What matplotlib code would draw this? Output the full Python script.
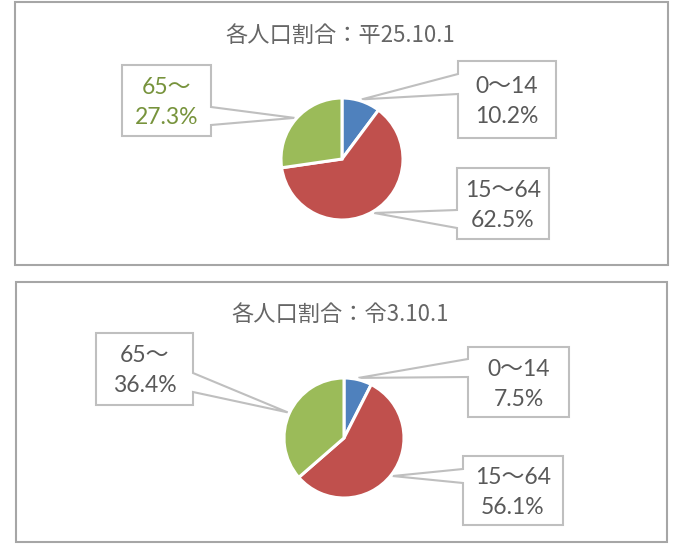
import matplotlib.pyplot as plt
import numpy as np
from matplotlib.patches import Polygon, Rectangle

# データ
age_groups = ['0～14', '15～64', '65～']
share_h25 = [10.2, 62.5, 27.3]
share_r3 = [7.5, 56.1, 36.4]
titles = ['各人口割合：平25.10.1', '各人口割合：令3.10.1']
slice_colors = ['#4F81BD', '#C0504D', '#9BBB59']

W, H = 678, 544
GRAY_TXT = '#595959'
BOX_EDGE = '#BFBFBF'

# レイアウト (ピクセル座標, 上から)
panels = [
    dict(values=share_h25, title=titles[0], frame=(15, 2, 668, 265),
         title_base=42, center=(342, 159), r=61,
         boxes=[(458, 61, 556, 138, 'left', 74, 94),
                (457, 168, 549, 239, 'left', 210, 228),
                (122, 65, 211, 136, 'right', 107, 125)],
         txt_colors=[GRAY_TXT, GRAY_TXT, '#77933C']),
    dict(values=share_r3, title=titles[1], frame=(16, 282, 667, 542),
         title_base=321, center=(344, 438), r=60,
         boxes=[(468, 347, 569, 417, 'left', 359, 377),
                (463, 456, 563, 525, 'left', 469, 483),
                (96, 333, 193, 405, 'right', 373, 392)],
         txt_colors=[GRAY_TXT, GRAY_TXT, GRAY_TXT]),
]

fig = plt.figure(figsize=(W / 100, H / 100), dpi=100)
bg = fig.add_axes([0, 0, 1, 1])
bg.set_xlim(0, W)
bg.set_ylim(H, 0)
bg.axis('off')

for p in panels:
    x0, y0, x1, y1 = p['frame']
    bg.add_patch(Rectangle((x0, y0), x1 - x0, y1 - y0, fill=False,
                           edgecolor='#A6A6A6', linewidth=1.5))
    bg.text((x0 + x1) / 2 - 1, p['title_base'], p['title'], ha='center',
            va='baseline', fontsize=16, color='#666666',
            family=['Noto Sans CJK JP'])

    # 円グラフ
    cx, cy, r = p['center'][0], p['center'][1], p['r']
    pax = fig.add_axes([(cx - r) / W, (H - cy - r) / H, 2 * r / W, 2 * r / H])
    wedges, _ = pax.pie(p['values'], colors=slice_colors, startangle=90,
                        counterclock=False, radius=1,
                        wedgeprops=dict(edgecolor='white', linewidth=2.2))
    pax.set_xlim(-1, 1)
    pax.set_ylim(-1, 1)
    pax.axis('off')

    # 吹き出しラベル
    for w, val, lab, box, col in zip(wedges, p['values'], age_groups,
                                     p['boxes'], p['txt_colors']):
        mid = np.deg2rad((w.theta1 + w.theta2) / 2)
        tip = (cx + r * 1.03 * np.cos(mid), cy - r * 1.03 * np.sin(mid))
        l, t, rr, b, side, a1, a2 = box
        if side == 'left':
            pts = [(l, t), (rr, t), (rr, b), (l, b), (l, a2), tip, (l, a1)]
        else:
            pts = [(l, t), (rr, t), (rr, a1), tip, (rr, a2), (rr, b), (l, b)]
        bg.add_patch(Polygon(pts, closed=True, facecolor='white',
                             edgecolor=BOX_EDGE, linewidth=1.5, zorder=2))
        bx = (l + rr) / 2
        by = (t + b) / 2
        bg.text(bx, by - 6.5, lab, ha='center', va='baseline', fontsize=16.5,
                color=col, family=['Lato', 'Noto Sans CJK JP'], zorder=3)
        bg.text(bx, by + 23.5, f'{val}%', ha='center', va='baseline',
                fontsize=16.5, color=col, family=['Lato', 'Noto Sans CJK JP'],
                zorder=3)

fig.savefig('out.png', dpi=100, facecolor='white')
